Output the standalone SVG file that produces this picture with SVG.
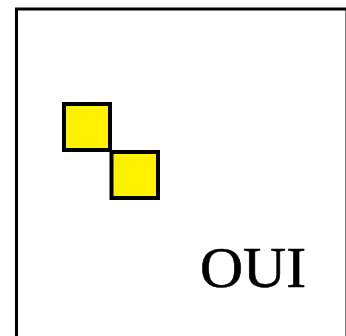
<svg xmlns="http://www.w3.org/2000/svg" width="346" height="336" viewBox="0 0 346 336">
<style>
.frame{fill:#ffffff;stroke:#000000;stroke-width:3}
.sq{fill:#fff200;stroke:#000000;stroke-width:4}
.lbl{font-family:"Liberation Serif","Times New Roman",serif;font-size:56px;fill:#000000;stroke:#000000;stroke-width:0.6}
</style>
<rect width="346" height="336" fill="#ffffff"/>
<g id="frame"><rect class="frame" x="16.5" y="9" width="330.5" height="340"/></g>
<g id="square1"><rect class="sq" x="64" y="104" width="46" height="46"/></g>
<g id="square2"><rect class="sq" x="111.5" y="152" width="46.5" height="46"/></g>
<g id="label"><text class="lbl" x="200" y="287" textLength="106" lengthAdjust="spacingAndGlyphs">OUI</text></g>
</svg>
